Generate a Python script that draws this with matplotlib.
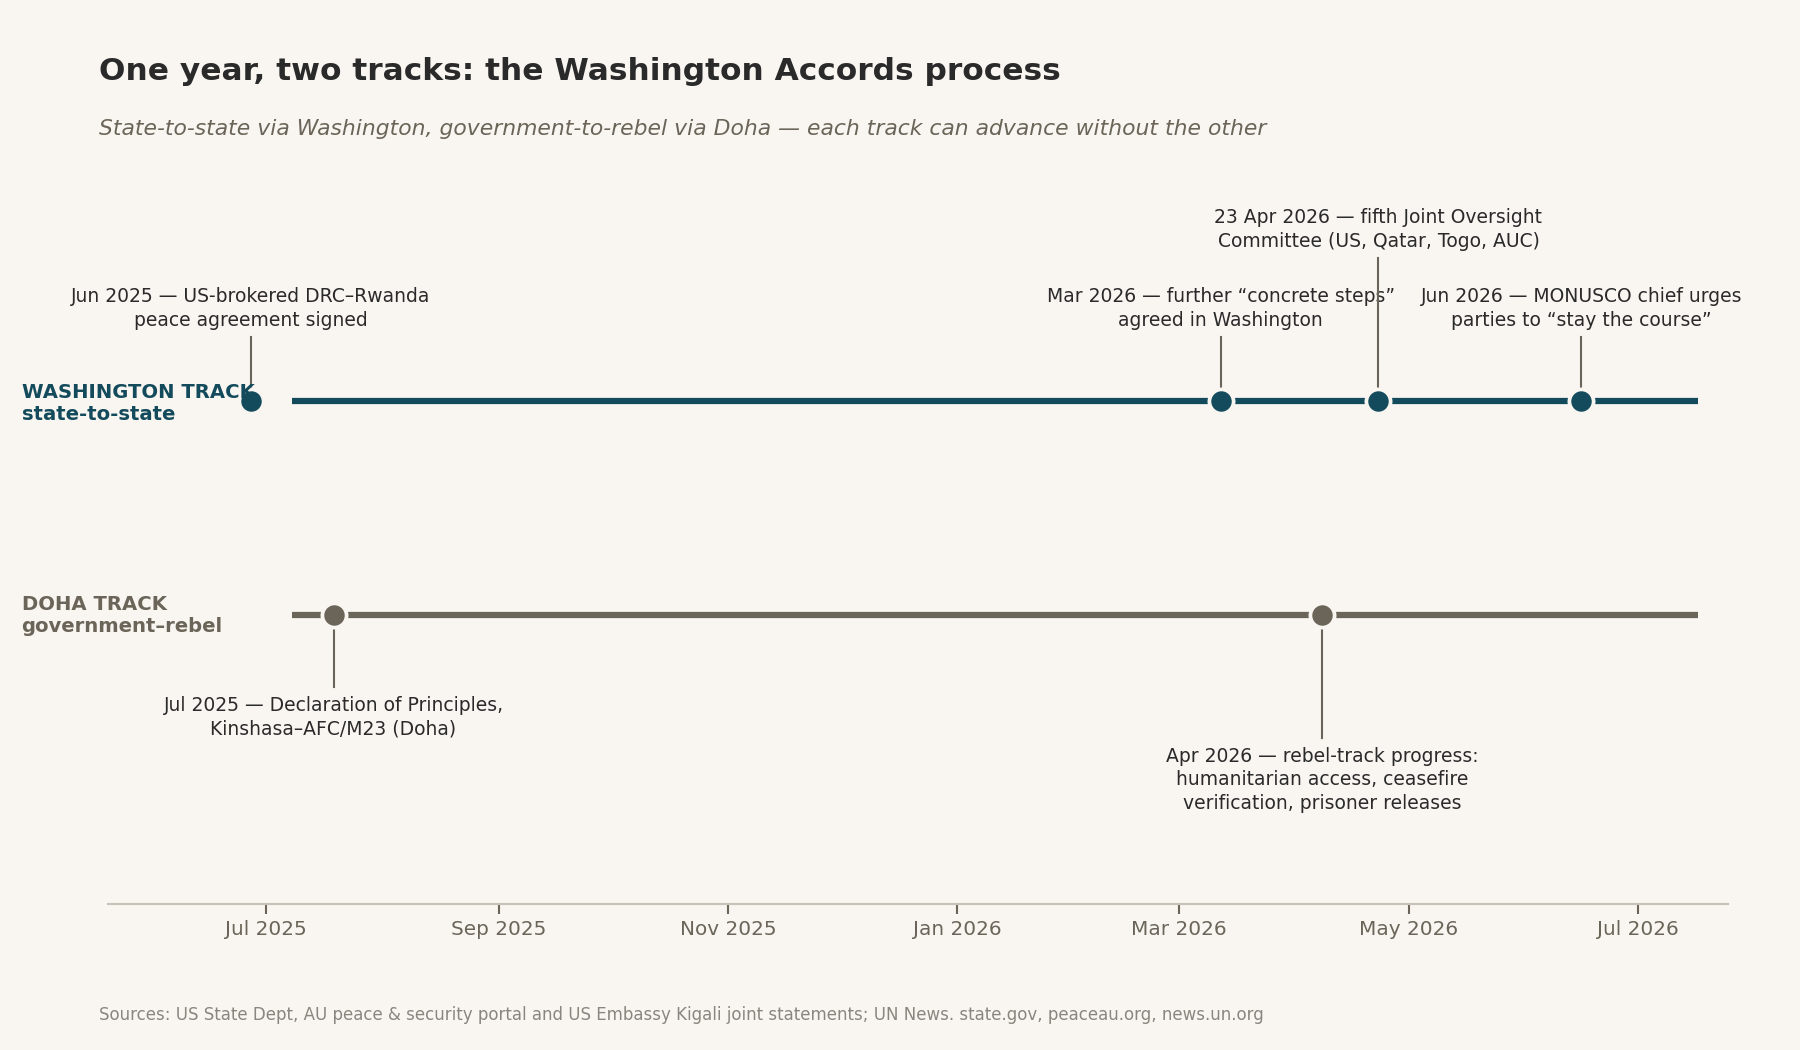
import matplotlib
matplotlib.use("Agg")
import matplotlib.pyplot as plt
import matplotlib.dates as mdates
import numpy as np
import datetime as dt

# ---- data ----
bg = "#f9f6f2"
wash_color = "#134b5c"
doha_color = "#6b6458"

track_names = ["WASHINGTON TRACK\nstate-to-state", "DOHA TRACK\ngovernment\u2013rebel"]
track_span = [dt.date(2025, 7, 8), dt.date(2026, 7, 17)]

wash_dates = [dt.date(2025, 6, 27), dt.date(2026, 3, 12), dt.date(2026, 4, 23), dt.date(2026, 6, 16)]
wash_labels = [
    "Jun 2025 \u2014 US-brokered DRC\u2013Rwanda\npeace agreement signed",
    "Mar 2026 \u2014 further \u201cconcrete steps\u201d\nagreed in Washington",
    "23 Apr 2026 \u2014 fifth Joint Oversight\nCommittee (US, Qatar, Togo, AUC)",
    "Jun 2026 \u2014 MONUSCO chief urges\nparties to \u201cstay the course\u201d",
]
wash_tall = [False, False, True, False]

doha_dates = [dt.date(2025, 7, 19), dt.date(2026, 4, 8)]
doha_labels = [
    "Jul 2025 \u2014 Declaration of Principles,\nKinshasa\u2013AFC/M23 (Doha)",
    "Apr 2026 \u2014 rebel-track progress:\nhumanitarian access, ceasefire\nverification, prisoner releases",
]
doha_tall = [False, True]

x_range = [dt.date(2025, 5, 20), dt.date(2026, 7, 25)]

fig = plt.figure(figsize=(12, 7), dpi=150, facecolor=bg)
ax = fig.add_axes([0.06, 0.1395, 0.90, 0.70])
ax.set_facecolor(bg)

y_w, y_d = 1.0, 0.0

ax.plot(track_span, [y_w, y_w], color=wash_color, lw=3, solid_capstyle="butt", zorder=2)
ax.plot(track_span, [y_d, y_d], color=doha_color, lw=3, solid_capstyle="butt", zorder=2)

ax.scatter(wash_dates, [y_w] * len(wash_dates), s=135, color=wash_color,
           edgecolor=bg, linewidth=1.8, zorder=4)
ax.scatter(doha_dates, [y_d] * len(doha_dates), s=135, color=doha_color,
           edgecolor=bg, linewidth=1.8, zorder=4)

for d, lab, tall in zip(wash_dates, wash_labels, wash_tall):
    top = y_w + (0.67 if tall else 0.30)
    ax.plot([d, d], [y_w + 0.055, top], color=doha_color, lw=1, zorder=3)
    ax.text(d, top + 0.035, lab, ha="center", va="bottom", fontsize=9,
            color="#2a2a2a", linespacing=1.3)

for d, lab, tall in zip(doha_dates, doha_labels, doha_tall):
    bot = y_d - (0.58 if tall else 0.34)
    ax.plot([d, d], [y_d - 0.055, bot], color=doha_color, lw=1, zorder=3)
    ax.text(d, bot - 0.04, lab, ha="center", va="top", fontsize=9,
            color="#2a2a2a", linespacing=1.3)

ax.set_xlim(x_range)
ax.set_ylim(-1.354, 2.09)
ax.set_yticks([])

ax.xaxis.set_major_locator(mdates.MonthLocator(bymonth=[1, 3, 5, 7, 9, 11]))
ax.xaxis.set_major_formatter(mdates.DateFormatter("%b %Y"))
ax.tick_params(axis="x", colors="#6b6458", labelsize=9.6, length=5, width=1, pad=3)
for s in ["top", "right", "left"]:
    ax.spines[s].set_visible(False)
ax.spines["bottom"].set_color("#c8c2b8")
ax.spines["bottom"].set_linewidth(1)

# track labels on the left
fig.text(0.012, 1 - 403 / 1050, track_names[0], ha="left", va="center",
         fontsize=9.4, fontweight="bold", color=wash_color, linespacing=1.2)
fig.text(0.012, 1 - 616 / 1050, track_names[1], ha="left", va="center",
         fontsize=9.4, fontweight="bold", color=doha_color, linespacing=1.2)

fig.text(0.055, 1 - 72 / 1050, "One year, two tracks: the Washington Accords process",
         ha="left", va="center", fontsize=15, fontweight="bold", color="#2a2a2a")
fig.text(0.055, 1 - 129 / 1050,
         "State-to-state via Washington, government-to-rebel via Doha \u2014 each track can advance without the other",
         ha="left", va="center", fontsize=10.5, style="italic", color="#6b6458")
fig.text(0.055, 1 - 1015 / 1050,
         "Sources: US State Dept, AU peace & security portal and US Embassy Kigali joint statements; UN News. state.gov, peaceau.org, news.un.org",
         ha="left", va="center", fontsize=8, color="#8a857e")

fig.savefig("out.png", dpi=150, facecolor=bg)
